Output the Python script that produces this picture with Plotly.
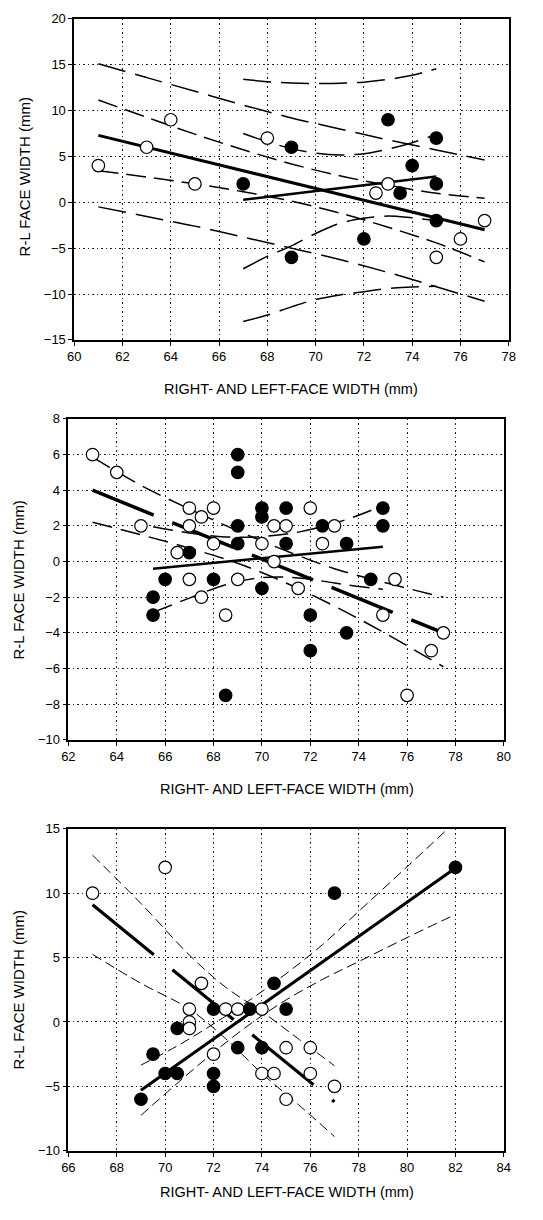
import plotly.graph_objects as go

W, H = 543, 1220

# ---------------- Panel 1 data ----------------
p1_open_x = [61, 63, 64, 65, 68, 72.5, 73, 75, 76, 77]
p1_open_y = [4, 6, 9, 2, 7, 1, 2, -6, -4, -2]
p1_filled_x = [67, 69, 73, 74, 73.5, 75, 75, 75, 72, 69]
p1_filled_y = [2, 6, 9, 4, 1, 7, 2, -2, -4, -6]
p1_open_fit_x = [61, 77]
p1_open_fit_y = [7.3, -3.0]
p1_filled_fit_x = [67, 75]
p1_filled_fit_y = [0.28, 2.8]
p1_open_band_x = [61, 63, 65, 67, 69, 71, 73, 75, 77]
p1_open_ci_hi = [11.15, 9.27, 7.43, 5.73, 4.18, 2.89, 1.86, 0.99, 0.45]
p1_open_ci_lo = [3.45, 2.75, 2.01, 1.15, 0.12, -1.17, -2.72, -4.43, -6.5]
p1_open_pi_hi = [15.1, 13.6, 12.1, 10.6, 9.2, 8.0, 6.8, 5.7, 4.6]
p1_open_pi_lo = [-0.5, -1.55, -2.6, -3.8, -5.0, -6.25, -7.65, -9.2, -10.8]
p1_filled_band_x = [67, 68, 69, 70, 71, 72, 73, 74, 75]
p1_filled_ci_hi = [7.5, 6.6, 5.85, 5.35, 5.15, 5.3, 5.8, 6.5, 7.4]
p1_filled_ci_lo = [-7.25, -5.9, -4.75, -3.4, -2.3, -1.75, -1.5, -1.7, -2.0]
p1_filled_pi_hi = [13.42, 13.15, 13.0, 12.95, 12.97, 13.1, 13.4, 13.85, 14.55]
p1_filled_pi_lo = [-13.0, -12.3, -11.4, -10.6, -10.1, -9.75, -9.4, -9.25, -9.15]

# ---------------- Panel 2 data ----------------
p2_open_x = [63, 64, 65, 66.5, 67, 67.5, 68, 67, 68, 67, 69, 67.5, 68.5, 70, 70.5,
             71, 70.5, 71.5, 72, 73, 72.5, 75.5, 75, 77.5, 77, 76]
p2_open_y = [6, 5, 2, 0.5, 3, 2.5, 3, 2, 1, -1, -1, -2, -3, 1, 2,
             2, 0, -1.5, 3, 2, 1, -1, -3, -4, -5, -7.5]
p2_filled_x = [67, 66, 68, 65.5, 65.5, 69, 69, 69, 69, 70, 70, 70, 71, 71, 72.5,
               73.5, 74.5, 75, 75, 72, 73.5, 72, 68.5]
p2_filled_y = [0.5, -1, -1, -2, -3, 6, 5, 2, 1, 3, 2.5, -1.5, 3, 1, 2,
               1, -1, 3, 2, -3, -4, -5, -7.5]
p2_open_fit_x = [63, 77.5]
p2_open_fit_y = [4.0, -4.0]
p2_filled_fit_x = [65.5, 75]
p2_filled_fit_y = [-0.4, 0.83]
p2_open_band_x = [63, 65, 67, 69, 71, 73, 75, 77.5]
p2_open_hi = [5.85, 4.27, 2.95, 1.72, 0.6, -0.4, -1.15, -2.0]
p2_open_lo = [2.2, 1.5, 0.75, -0.1, -1.2, -2.5, -3.95, -5.9]
p2_filled_band_x = [65.5, 67, 68.5, 70, 71.5, 73, 74, 75]
p2_filled_hi = [1.95, 1.6, 1.38, 1.4, 1.65, 2.15, 2.6, 3.15]
p2_filled_lo = [-2.85, -2.05, -1.3, -0.9, -0.92, -1.2, -1.4, -1.55]

# ---------------- Panel 3 data ----------------
p3_open_x = [67, 70, 71.5, 71, 72.5, 73, 74, 71, 71, 72, 75, 76, 74, 74.5, 76, 77, 75]
p3_open_y = [10, 12, 3, 1, 1, 1, 1, 0, -0.5, -2.5, -2, -2, -4, -4, -4, -5, -6]
p3_filled_x = [77, 82, 74.5, 72, 73.5, 75, 70.5, 69.5, 73, 74, 70, 70.5, 72, 72, 69]
p3_filled_y = [10, 12, 3, 1, 1, 1, -0.5, -2.5, -2, -2, -4, -4, -4, -5, -6]
p3_open_fit_x = [67, 77]
p3_open_fit_y = [9.1, -6.2]
p3_filled_fit_x = [69, 82]
p3_filled_fit_y = [-5.3, 11.95]
p3_open_band_x = [67, 69, 71, 72.5, 74, 75.5, 77]
p3_open_hi = [12.95, 9.2, 5.2, 2.7, 0.8, -1.3, -3.4]
p3_open_lo = [5.25, 3.0, 1.0, -1.3, -4.0, -6.4, -8.9]
p3_filled_band_x = [69, 70.5, 72, 73.5, 75, 76.5, 78, 80, 82]
p3_filled_hi = [-3.35, -1.86, -0.15, 1.7, 3.75, 6.0, 8.59, 12.05, 15.55]
p3_filled_lo = [-7.25, -4.76, -2.37, -0.18, 1.71, 3.3, 4.69, 6.55, 8.35]

x_title = "RIGHT- AND LEFT-FACE WIDTH (mm)"
y_title = "R-L FACE WIDTH (mm)"

FONT = "Liberation Sans, Arial, sans-serif"

fig = go.Figure()


def line(xs, ys, k, width, dash="solid", shape="linear"):
    fig.add_trace(go.Scatter(
        x=xs, y=ys, mode="lines", line=dict(color="black", width=width, dash=dash, shape=shape),
        xaxis="x" if k == 1 else f"x{k}", yaxis="y" if k == 1 else f"y{k}",
        hoverinfo="skip", showlegend=False))


def pts(xs, ys, k, filled):
    fig.add_trace(go.Scatter(
        x=xs, y=ys, mode="markers",
        marker=dict(size=12.5, symbol="circle",
                    color="black" if filled else "white",
                    line=dict(color="black", width=1.2)),
        xaxis="x" if k == 1 else f"x{k}", yaxis="y" if k == 1 else f"y{k}",
        hoverinfo="skip", showlegend=False, cliponaxis=False))


# Panel 1
line(p1_open_band_x, p1_open_pi_hi, 1, 1.5, "28px,10px", "spline")
line(p1_open_band_x, p1_open_pi_lo, 1, 1.5, "28px,10px", "spline")
line(p1_open_band_x, p1_open_ci_hi, 1, 1.5, "20px,8px", "spline")
line(p1_open_band_x, p1_open_ci_lo, 1, 1.5, "20px,8px", "spline")
line(p1_filled_band_x, p1_filled_pi_hi, 1, 1.5, "28px,10px", "spline")
line(p1_filled_band_x, p1_filled_pi_lo, 1, 1.5, "28px,10px", "spline")
line(p1_filled_band_x, p1_filled_ci_hi, 1, 1.5, "28px,10px", "spline")
line(p1_filled_band_x, p1_filled_ci_lo, 1, 1.5, "28px,10px", "spline")
line(p1_open_fit_x, p1_open_fit_y, 1, 3)
line(p1_filled_fit_x, p1_filled_fit_y, 1, 2.5)
pts(p1_open_x, p1_open_y, 1, False)
pts(p1_filled_x, p1_filled_y, 1, True)

# Panel 2
line(p2_open_band_x, p2_open_hi, 2, 1.5, "20px,9px", "spline")
line(p2_open_band_x, p2_open_lo, 2, 1.5, "20px,9px", "spline")
line(p2_filled_band_x, p2_filled_hi, 2, 1.5, "20px,9px", "spline")
line(p2_filled_band_x, p2_filled_lo, 2, 1.5, "20px,9px", "spline")
line(p2_open_fit_x, p2_open_fit_y, 2, 3.5, "66px,20px")
line(p2_filled_fit_x, p2_filled_fit_y, 2, 2.5)
pts(p2_open_x, p2_open_y, 2, False)
pts(p2_filled_x, p2_filled_y, 2, True)

# Panel 3
line(p3_open_band_x, p3_open_hi, 3, 1, "10px,5px", "spline")
line(p3_open_band_x, p3_open_lo, 3, 1, "10px,5px", "spline")
line(p3_filled_band_x, p3_filled_hi, 3, 1, "10px,5px", "spline")
line(p3_filled_band_x, p3_filled_lo, 3, 1, "10px,5px", "spline")
line(p3_open_fit_x, p3_open_fit_y, 3, 3.2, "79px,24px")
line(p3_filled_fit_x, p3_filled_fit_y, 3, 3)
pts(p3_open_x, p3_open_y, 3, False)
pts(p3_filled_x, p3_filled_y, 3, True)

common = dict(showgrid=True, gridcolor="#222", griddash="1.5px,3px", gridwidth=1,
              zeroline=False, showline=True, linecolor="black", linewidth=1.5,
              mirror=True, ticks="outside", ticklen=4, tickcolor="black", tickwidth=1,
              tickfont=dict(family=FONT, size=13, color="black"))

panels = [
    # x px domain, y px domain (top,bottom), xrange, yrange, xdtick, ydtick
    ((69, 515), (12, 337), [60, 78], [-15, 20], 2, 5),
    ((63, 510), (417, 742), [62, 80], [-10, 8], 2, 2),
    ((63, 510), (832, 1158), [66, 84], [-10, 15], 2, 5),
]

layout = dict(width=W, height=H, margin=dict(l=0, r=0, t=0, b=0),
              paper_bgcolor="white", plot_bgcolor="white", showlegend=False,
              font=dict(family=FONT, color="black"))
for i, (xd, yd, xr, yr, dx, dy) in enumerate(panels, start=1):
    sx = "" if i == 1 else str(i)
    layout[f"xaxis{sx}"] = dict(common, domain=[xd[0] / W, xd[1] / W], range=xr,
                                dtick=dx, tick0=xr[0], anchor=f"y{sx}")
    layout[f"yaxis{sx}"] = dict(common, domain=[1 - yd[1] / H, 1 - yd[0] / H], range=yr,
                                dtick=dy, tick0=yr[0], anchor=f"x{sx}")

ann = []
xt_pos = [(292, 387), (287, 792), (287, 1200)]
yt_pos = [(18, 172), (12, 580), (12, 995)]
for (ax, ay) in xt_pos:
    ann.append(dict(text=x_title, x=ax / W, y=1 - ay / H, xref="paper", yref="paper",
                    showarrow=False, xanchor="center", yanchor="middle",
                    font=dict(family=FONT, size=14.5, color="black")))
for (ax, ay) in yt_pos:
    ann.append(dict(text=y_title, x=ax / W, y=1 - ay / H, xref="paper", yref="paper",
                    showarrow=False, xanchor="center", yanchor="middle", textangle=-90,
                    font=dict(family=FONT, size=15, color="black")))
layout["annotations"] = ann

fig.update_layout(**layout)
fig.write_html("out.html")
